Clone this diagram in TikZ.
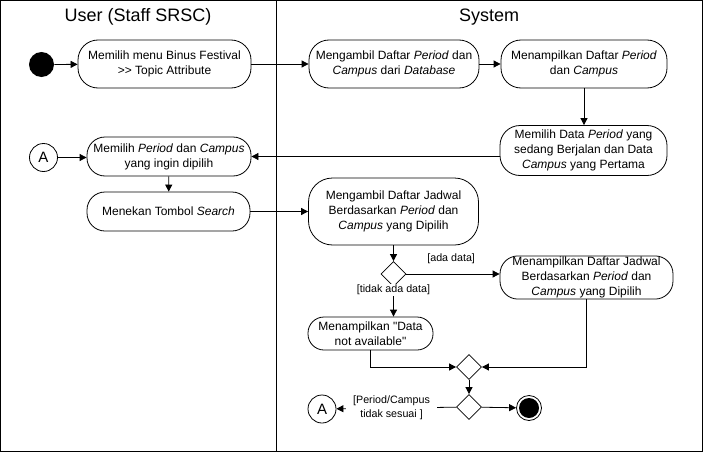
\documentclass[tikz,border=0pt]{standalone}
\usepackage{fontspec}
\setmainfont{Liberation Sans}[Ligatures=TeXOff]
\usetikzlibrary{arrows.meta,shapes.geometric}

\begin{document}
\begin{tikzpicture}[x=1pt,y=-1pt,line width=0.8pt,act/.style n args={3}{draw,minimum width=#1pt,minimum height=#2pt,rounded corners=#3pt,align=center,inner sep=1pt,font=\fontsize{12}{15}\selectfont},arr/.style={-{Triangle[length=7pt,width=7pt]}},dec/.style={draw,diamond,minimum width=25pt,minimum height=25pt,inner sep=0pt},conn/.style={draw,circle,minimum size=28pt,inner sep=0pt,font=\fontsize{15}{15}\selectfont},lbl/.style={fill=white,inner sep=1pt,align=center,font=\fontsize{10.7}{14}\selectfont}]
\useasboundingbox (0,0) rectangle (703,452);
\draw[line width=1pt] (0.5,0.5) rectangle (702,451) (276,0.5) -- (276,451);
\node[font=\fontsize{18}{18}\selectfont] (userT) at (138,17) {User (Staff SRSC)};
\node[font=\fontsize{18}{18}\selectfont] (sysT) at (489,17) {System};
\node[circle,fill=black,minimum size=25pt,inner sep=0pt] (start) at (41.5,64.5) {};
\node[act={173}{48}{20}] (menu) at (164.5,64) {Memilih menu Binus Festival\\>> Topic Attribute};
\node[act={170}{48}{20}] (ambilPC) at (394,64) {Mengambil Daftar \textit{Period} dan\\\textit{Campus} dari \textit{Database}};
\node[act={166}{48}{20}] (tampilPC) at (584,64) {Menampilkan Daftar \textit{Period}\\dan \textit{Campus}};
\node[act={167}{50}{20}] (pilihData) at (583.5,150.5) {Memilih Data \textit{Period} yang\\sedang Berjalan dan Data\\\textit{Campus} yang Pertama};
\node[conn] (aIn) at (43.5,157.5) {A};
\node[act={164}{39}{18}] (pilihPC) at (169,156.5) {Memilih \textit{Period} dan \textit{Campus}\\yang ingin dipilih};
\node[act={163}{39}{18}] (tekan) at (168.5,211.5) {Menekan Tombol \textit{Search}};
\node[act={170}{67}{24}] (ambilJ) at (393.5,211.5) {Mengambil Daftar Jadwal\\Berdasarkan \textit{Period} dan\\\textit{Campus} yang Dipilih};
\node[dec] (cekData) at (393.5,274) {};
\node[act={173}{41}{18}] (tampilJ) at (586.5,277.5) {Menampilkan Daftar Jadwal\\Berdasarkan \textit{Period} dan\\\textit{Campus} yang Dipilih};
\node[act={125}{33}{16}] (notAvail) at (370.5,333.5) {Menampilkan "Data\\not available"};
\node[dec] (merge) at (469,367) {};
\node[dec] (cekPC) at (469,407) {};
\node[conn] (aOut) at (322,409) {A};
\node[circle,draw,minimum size=25pt,inner sep=0pt,path picture={\fill (path picture bounding box.center) circle (10pt);}] (finish) at (529,408) {};
\draw[arr] (start) -- (menu);
\draw[arr] (menu) -- (ambilPC);
\draw[arr] (ambilPC) -- (tampilPC);
\draw[arr] (tampilPC.south) -- (tampilPC.south |- pilihData.north);
\draw[arr] (pilihData.west |- pilihPC.east) -- (pilihPC.east);
\draw[arr] (aIn.east) -- (aIn.east -| pilihPC.west);
\draw[arr] (pilihPC) -- (tekan);
\draw[arr] (tekan) -- (ambilJ);
\draw[arr] (ambilJ) -- (cekData);
\draw[arr] (cekData.east) -- (cekData.east -| tampilJ.west) node[lbl,fill=none,pos=0.48,yshift=15pt] {[ada data]};
\draw[arr] (cekData.south) -- (cekData.south |- notAvail.north) node[lbl,pos=0.1] {[tidak ada data]};
\draw[arr] (notAvail.south) |- (merge.west);
\draw[arr] (tampilJ.south) |- (merge.east);
\draw[arr] (merge) -- (cekPC);
\draw[arr] (cekPC) -- (finish);
\draw[arr] (cekPC) -- (aOut) node[lbl,inner xsep=7pt,pos=0.54] {[Period/Campus\\tidak sesuai ]};
\end{tikzpicture}
\end{document}
